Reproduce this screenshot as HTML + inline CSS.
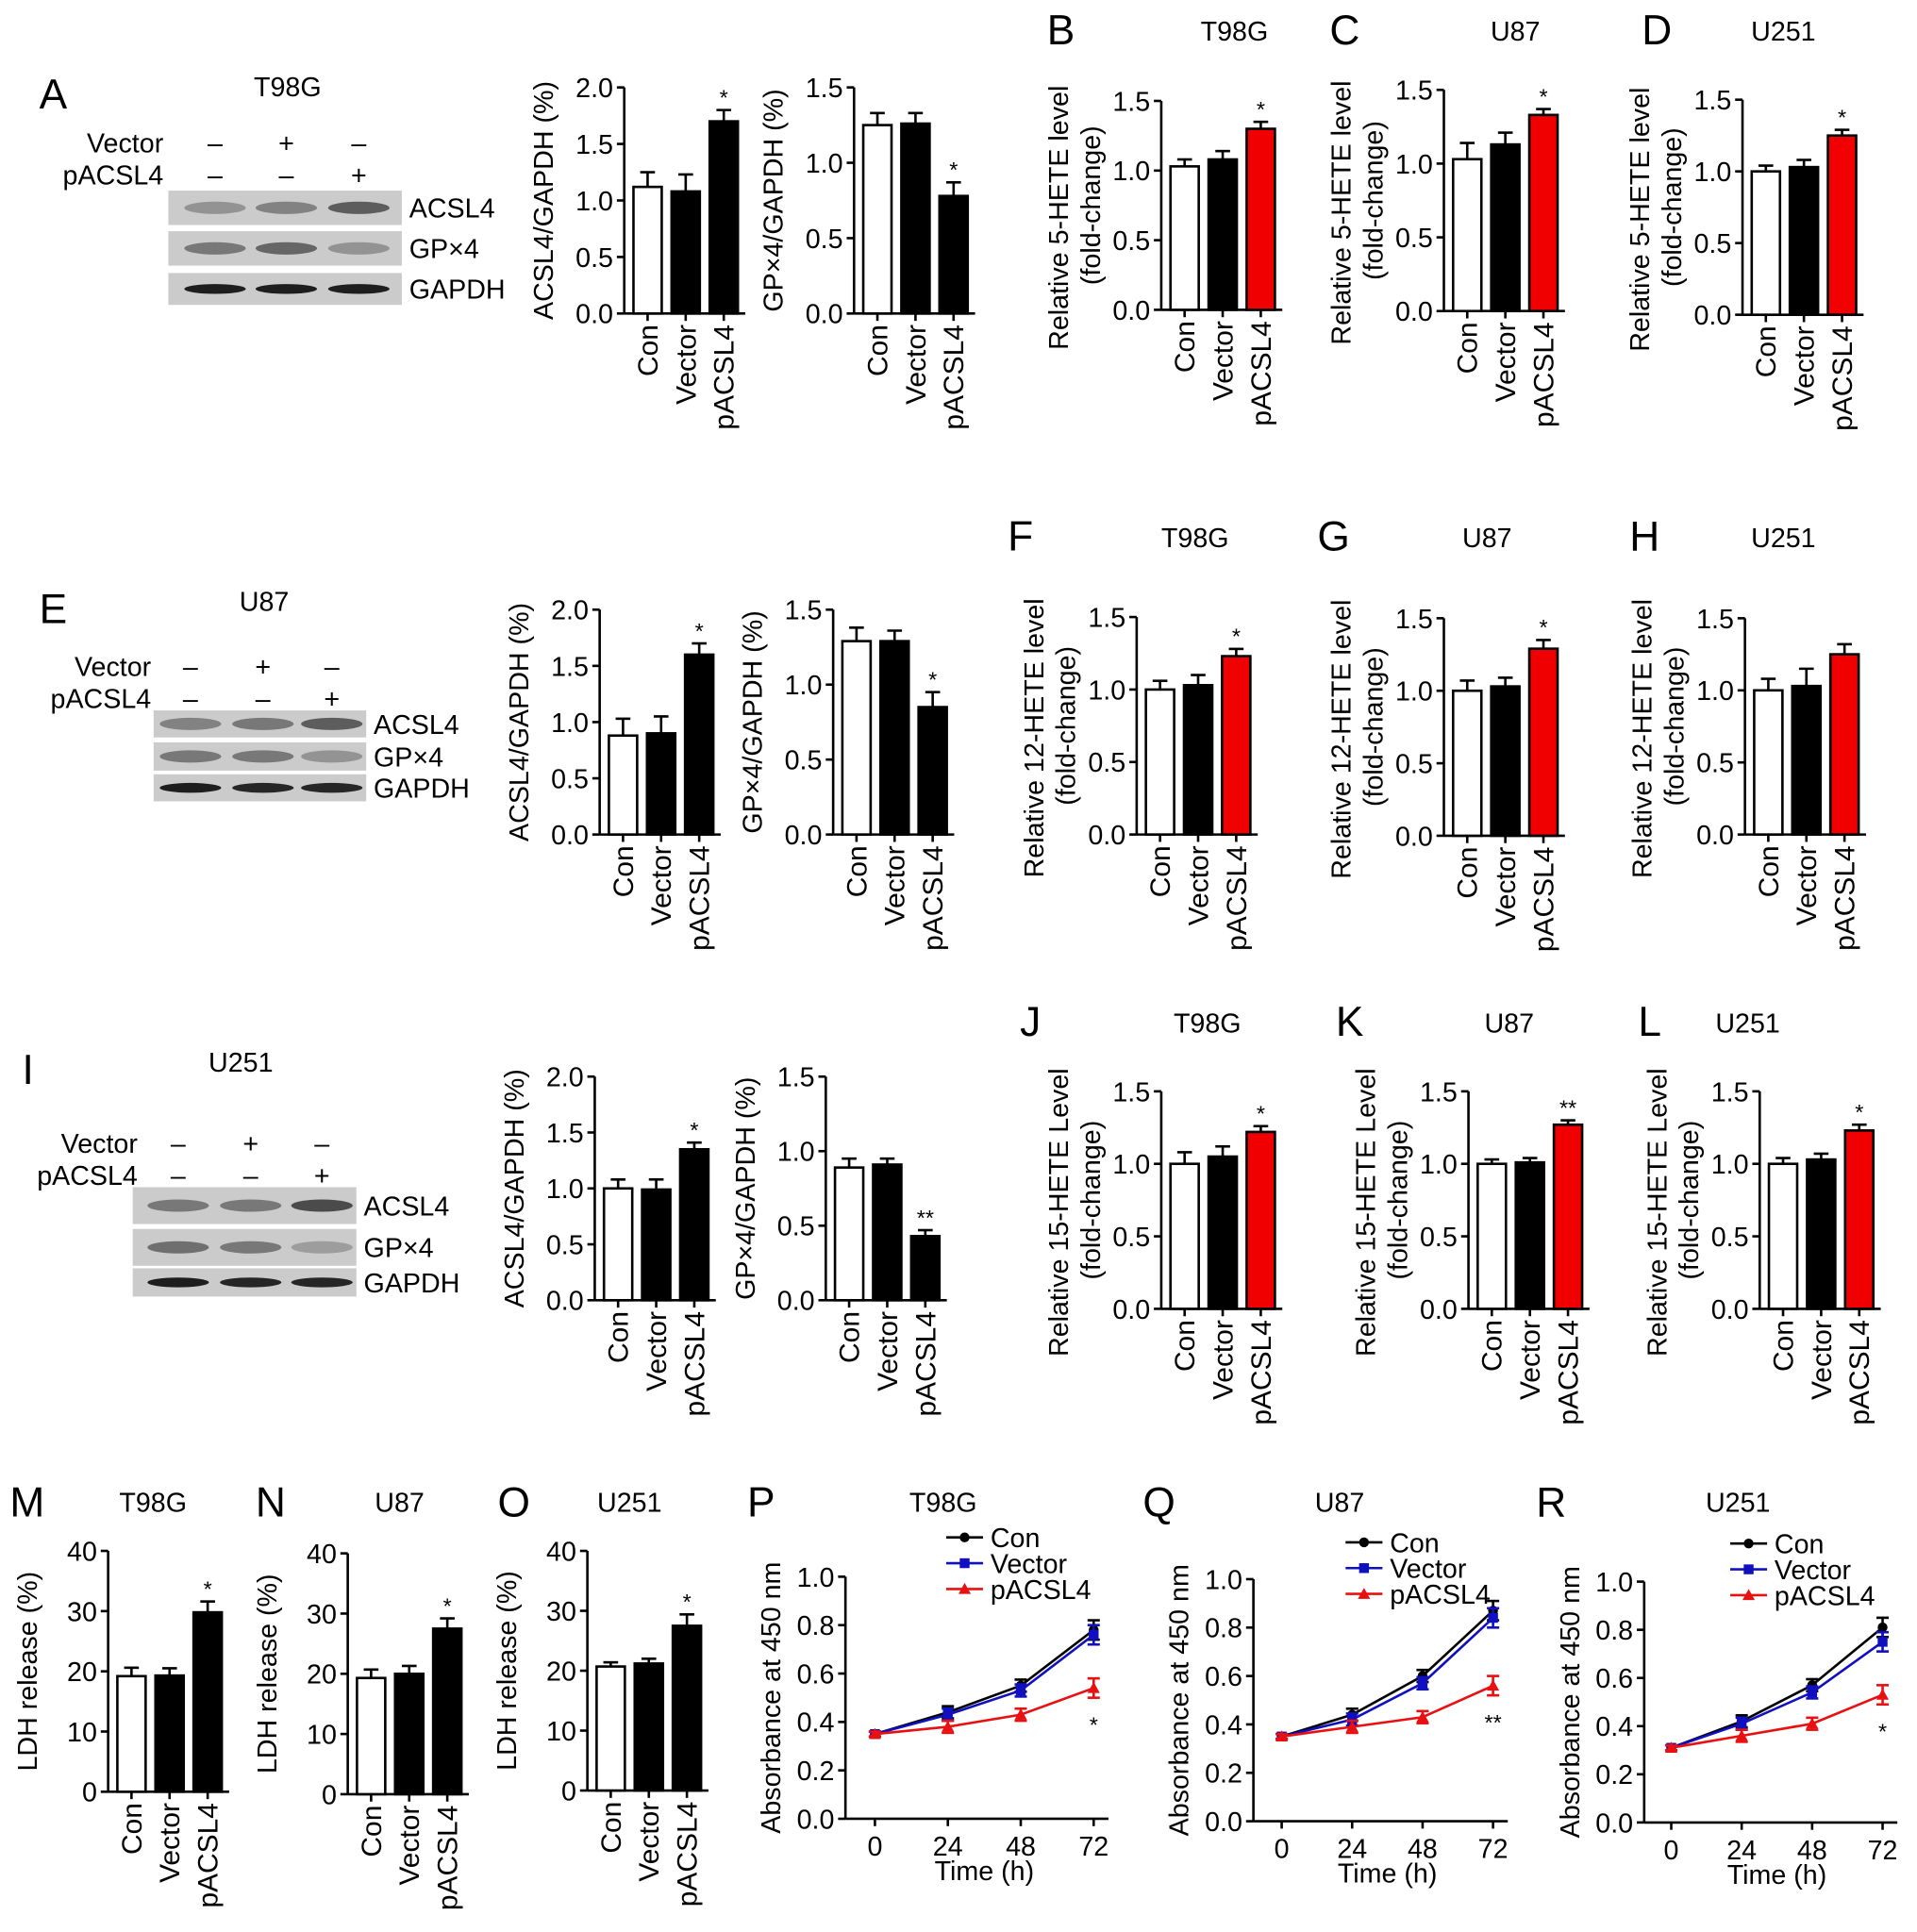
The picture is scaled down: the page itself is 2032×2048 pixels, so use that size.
<!DOCTYPE html>
<html><head><meta charset="utf-8"><style>
html,body{margin:0;padding:0;background:#fff;}
svg{display:block;font-family:"Liberation Sans",Arial,sans-serif;}
</style></head><body>
<svg id="fig" width="2032" height="2048" viewBox="0 0 1560 1572" xmlns="http://www.w3.org/2000/svg"></svg>
<script>
// ---- data ----
const groups = ["Con","Vector","pACSL4"];
const times = [0,24,48,72];
const aAcsl = [1.12,1.08,1.70], aAcslErr=[0.13,0.15,0.10];
const aGpx = [1.25,1.26,0.78], aGpxErr=[0.08,0.07,0.09];
const b5 = [1.03,1.08,1.30], b5Err=[0.05,0.06,0.05];
const c5 = [1.03,1.13,1.33], c5Err=[0.11,0.08,0.04];
const d5 = [1.00,1.03,1.25], d5Err=[0.04,0.05,0.04];
const eAcsl = [0.88,0.90,1.60], eAcslErr=[0.15,0.15,0.10];
const eGpx = [1.29,1.29,0.85], eGpxErr=[0.09,0.07,0.10];
const f12 = [1.00,1.03,1.23], f12Err=[0.06,0.07,0.05];
const g12 = [1.00,1.03,1.29], g12Err=[0.07,0.06,0.06];
const h12 = [1.00,1.03,1.25], h12Err=[0.08,0.12,0.07];
const iAcsl = [1.00,0.99,1.35], iAcslErr=[0.08,0.09,0.06];
const iGpx = [0.89,0.91,0.43], iGpxErr=[0.06,0.04,0.04];
const j15 = [1.00,1.05,1.22], j15Err=[0.08,0.07,0.04];
const k15 = [1.00,1.01,1.27], k15Err=[0.03,0.03,0.03];
const l15 = [1.00,1.03,1.23], l15Err=[0.04,0.04,0.04];
const mLdh = [19.2,19.3,29.8], mLdhErr=[1.4,1.2,1.8];
const nLdh = [19.3,20.0,27.5], nLdhErr=[1.4,1.3,1.7];
const oLdh = [20.7,21.2,27.5], oLdhErr=[0.7,0.8,1.9];
const pCon=[0.35,0.44,0.55,0.78], pVec=[0.35,0.43,0.53,0.76], pP=[0.35,0.38,0.43,0.54];
const qCon=[0.35,0.44,0.60,0.87], qVec=[0.35,0.42,0.57,0.84], qP=[0.35,0.39,0.43,0.56];
const rCon=[0.31,0.42,0.57,0.81], rVec=[0.31,0.41,0.54,0.75], rP=[0.31,0.36,0.41,0.53];
const ticks2=[0,0.5,1.0,1.5,2.0], ticks15=[0,0.5,1.0,1.5], ticks1=[0,0.2,0.4,0.6,0.8,1.0], ticks40=[0,10,20,30,40];

const svg=document.getElementById('fig');
const NS='http://www.w3.org/2000/svg';
const FS=22;
function el(tag,attrs,parent,text){const e=document.createElementNS(NS,tag);for(const k in attrs)e.setAttribute(k,attrs[k]);if(text!==undefined)e.textContent=text;(parent||svg).appendChild(e);return e;}
function txt(x,y,s,size,parent,anchor,extra){const t=el('text',Object.assign({x:x,y:y,'font-size':size,'text-anchor':anchor||'start',fill:'#000'},extra||{}),parent,s);return t;}

function barChart(name,ax,base,top,max,ticks,dec,vals,errs,colors,ylab,stars){
  const g=el('g',{});
  
  
  const ys=v=>base-(v/max)*(base-top);
  const bw=23, step=31, x0=ax+19;
  el('line',{x1:ax,y1:top,x2:ax,y2:base,stroke:'#000','stroke-width':2},g);
  el('line',{x1:ax,y1:base,x2:x0+step*(vals.length-1)+bw/2+6,y2:base,stroke:'#000','stroke-width':2},g);
  ticks.forEach(t=>{const y=ys(t);el('line',{x1:ax-6,y1:y,x2:ax,y2:y,stroke:'#000','stroke-width':2},g);
    const lb=txt(ax-9,y+8,t.toFixed(dec),FS,g,'end');});
  vals.forEach((v,i)=>{const cx=x0+step*i;
    el('line',{x1:cx,y1:ys(v),x2:cx,y2:ys(v+errs[i]),stroke:'#000','stroke-width':2},g);
    el('line',{x1:cx-6,y1:ys(v+errs[i]),x2:cx+6,y2:ys(v+errs[i]),stroke:'#000','stroke-width':2},g);
    const r=el('rect',{x:cx-bw/2,y:ys(v),width:bw,height:base-ys(v),fill:colors[i],stroke:'#000','stroke-width':2},g);
    
    
    el('line',{x1:cx,y1:base,x2:cx,y2:base+6,stroke:'#000','stroke-width':2},g);
    const xl=txt(0,0,groups[i],FS+1,g,'end',{transform:`translate(${cx+8},${base+9}) rotate(-90)`});
    
    if(stars&&stars[i]){const s=txt(cx,ys(v+errs[i])-4,stars[i],18,g,'middle');}
  });
  const mid=(top+base)/2;
  if(Array.isArray(ylab)){
    const a=txt(0,0,ylab[0],FS,g,'middle',{transform:`translate(${ax-76},${mid+10}) rotate(-90)`});
    const b=txt(0,0,ylab[1],FS,g,'middle',{transform:`translate(${ax-50},${mid}) rotate(-90)`});
  } else {
    const a=txt(0,0,ylab,FS,g,'middle',{transform:`translate(${ax-58},${mid}) rotate(-90)`});
  }
}
function lineChart(name,ax,base,top,x0,x72,con,vec,pa,star,legX,legY){
  const g=el('g',{});
  
  
  const ys=v=>base-v*(base-top);
  const xs=t=>x0+(t/72)*(x72-x0);
  el('line',{x1:ax,y1:top,x2:ax,y2:base,stroke:'#000','stroke-width':2},g);
  el('line',{x1:ax,y1:base,x2:x72+12,y2:base,stroke:'#000','stroke-width':2},g);
  ticks1.forEach(t=>{const y=ys(t);el('line',{x1:ax-6,y1:y,x2:ax,y2:y,stroke:'#000','stroke-width':2},g);
    const lb=txt(ax-9,y+8,t.toFixed(1),FS,g,'end');});
  times.forEach(t=>{const x=xs(t);el('line',{x1:x,y1:base,x2:x,y2:base+6,stroke:'#000','stroke-width':2},g);
    const lb=txt(x,base+30,String(t),FS,g,'middle');});
  const xt=txt((x0+x72)/2,base+50,'Time (h)',FS,g,'middle');
  const yt=txt(0,0,'Absorbance at 450 nm',FS,g,'middle',{transform:`translate(${ax-53},${(top+base)/2}) rotate(-90)`});
  const series=[[con,'#000','circle','con'],[vec,'#1010c0','square','vector'],[pa,'#e81010','tri','pacsl4']];
  series.forEach(([d,c,m,nm])=>{
    const pl=el('polyline',{points:d.map((v,i)=>xs(times[i])+','+ys(v)).join(' '),fill:'none',stroke:c,'stroke-width':2},g);
    
    d.forEach((v,i)=>{const x=xs(times[i]),y=ys(v),e=i==0?0.01:(i==3?0.04:0.025);
      el('line',{x1:x,y1:ys(v-e),x2:x,y2:ys(v+e),stroke:c,'stroke-width':2},g);
      el('line',{x1:x-5,y1:ys(v+e),x2:x+5,y2:ys(v+e),stroke:c,'stroke-width':2},g);
      el('line',{x1:x-5,y1:ys(v-e),x2:x+5,y2:ys(v-e),stroke:c,'stroke-width':2},g);
      marker(g,m,x,y,c);});
  });
  const st=txt(xs(72),ys(pa[3])+36,star,18,g,'middle');
  const names=['Con','Vector','pACSL4'];
  series.forEach(([d,c,m,nm],i)=>{const y=legY+i*21;
    el('line',{x1:legX,y1:y,x2:legX+30,y2:y,stroke:c,'stroke-width':2},g);marker(g,m,legX+15,y,c);
    const lt=txt(legX+36,y+8,names[i],FS,g);});
}
function marker(g,m,x,y,c){
  if(m=='circle')el('circle',{cx:x,cy:y,r:4,fill:c},g);
  else if(m=='square')el('rect',{x:x-4,y:y-4,width:8,height:8,fill:c},g);
  else el('polygon',{points:`${x},${y-5} ${x-5},${y+4} ${x+5},${y+4}`,fill:c},g);
}
function label(x,y,s,size,nm){const t=txt(x,y,s,size);return t;}
function blot(name,title,tx,ty,letter,lx,bx,bw,rows,lanes,vy,py,labX,intens){
  const g=el('g',{});
  
  
  label(lx,ty+10,letter,34,'panel-letter');
  txt(tx,ty,title,FS,g,'middle');
  txt(labX,vy,'Vector',FS,g,'end');txt(labX,py,'pACSL4',FS,g,'end');
  const v=['–','+','–'],p=['–','–','+'];
  lanes.forEach((lx2,i)=>{txt(lx2,vy,v[i],FS,g,'middle');txt(lx2,py,p[i],FS,g,'middle');});
  const names=['ACSL4','GP×4','GAPDH'];
  rows.forEach(([y,h],r)=>{
    el('rect',{x:bx,y:y,width:bw,height:h,fill:'#cbcbcb'},g);
    lanes.forEach((lx2,i)=>{const k=intens[r][i];
      el('ellipse',{cx:lx2,cy:y+h/2,rx:25,ry:r==2?4:5,fill:`rgba(20,20,20,${k})`},g);});
    const t=txt(bx+bw+6,y+h/2+8,names[r],FS,g);
  });
}
const W=['#fff','#000','#000'], R=['#fff','#000','#f00000'];
// Row 1
blot('blot-t98g','T98G',234,78,'A',32,137,190,[[155,28],[188,28],[222,26]],[175,233,292],124,150,133,[[0.3,0.4,0.6],[0.45,0.55,0.3],[0.95,0.95,0.95]]);
barChart('chart-a-acsl4',508,255,71,2,ticks2,1,aAcsl,aAcslErr,W,'ACSL4/GAPDH (%)',['','','*']);
barChart('chart-a-gpx4',695,255,71,1.5,ticks15,1,aGpx,aGpxErr,W,'GP×4/GAPDH (%)',['','','*']);
label(852,36,'B',34,'panel-letter');label(977,33,'T98G',FS,'panel-title');
barChart('chart-b',945,252,82,1.5,ticks15,1,b5,b5Err,R,['Relative 5-HETE level','(fold-change)'],['','','*']);
label(1082,36,'C',34,'panel-letter');label(1213,33,'U87',FS,'panel-title');
barChart('chart-c',1175,253,73,1.5,ticks15,1,c5,c5Err,R,['Relative 5-HETE level','(fold-change)'],['','','*']);
label(1336,36,'D',34,'panel-letter');label(1425,33,'U251',FS,'panel-title');
barChart('chart-d',1418,256,81,1.5,ticks15,1,d5,d5Err,R,['Relative 5-HETE level','(fold-change)'],['','','*']);
// Row 2
blot('blot-u87','U87',215,497,'E',32,125,173,[[578,22],[604,23],[630,22]],[155,214,270],550,576,123,[[0.4,0.45,0.6],[0.45,0.45,0.3],[0.95,0.9,0.9]]);
barChart('chart-e-acsl4',488,679,496,2,ticks2,1,eAcsl,eAcslErr,W,'ACSL4/GAPDH (%)',['','','*']);
barChart('chart-e-gpx4',678,679,496,1.5,ticks15,1,eGpx,eGpxErr,W,'GP×4/GAPDH (%)',['','','*']);
label(820,448,'F',34,'panel-letter');label(945,445,'T98G',FS,'panel-title');
barChart('chart-f',925,679,502,1.5,ticks15,1,f12,f12Err,R,['Relative 12-HETE level','(fold-change)'],['','','*']);
label(1072,448,'G',34,'panel-letter');label(1190,445,'U87',FS,'panel-title');
barChart('chart-g',1175,680,503,1.5,ticks15,1,g12,g12Err,R,['Relative 12-HETE level','(fold-change)'],['','','*']);
label(1326,448,'H',34,'panel-letter');label(1425,445,'U251',FS,'panel-title');
barChart('chart-h',1420,679,503,1.5,ticks15,1,h12,h12Err,R,['Relative 12-HETE level','(fold-change)'],null);
// Row 3
blot('blot-u251','U251',196,872,'I',18,108,182,[[966,30],[1000,30],[1032,23]],[145,204,262],938,964,112,[[0.45,0.45,0.7],[0.5,0.45,0.25],[0.95,0.9,0.9]]);
barChart('chart-i-acsl4',484,1058,876,2,ticks2,1,iAcsl,iAcslErr,W,'ACSL4/GAPDH (%)',['','','*']);
barChart('chart-i-gpx4',672,1058,876,1.5,ticks15,1,iGpx,iGpxErr,W,'GP×4/GAPDH (%)',['','','**']);
label(830,843,'J',34,'panel-letter');label(955,840,'T98G',FS,'panel-title');
barChart('chart-j',945,1065,888,1.5,ticks15,1,j15,j15Err,R,['Relative 15-HETE Level','(fold-change)'],['','','*']);
label(1087,843,'K',34,'panel-letter');label(1208,840,'U87',FS,'panel-title');
barChart('chart-k',1195,1065,888,1.5,ticks15,1,k15,k15Err,R,['Relative 15-HETE Level','(fold-change)'],['','','**']);
label(1333,843,'L',34,'panel-letter');label(1396,840,'U251',FS,'panel-title');
barChart('chart-l',1432,1065,888,1.5,ticks15,1,l15,l15Err,R,['Relative 15-HETE Level','(fold-change)'],['','','*']);
// Row 4
label(8,1234,'M',34,'panel-letter');label(97,1230,'T98G',FS,'panel-title');
barChart('chart-m',88,1458,1262,40,ticks40,0,mLdh,mLdhErr,W,'LDH release (%)',['','','*']);
label(208,1234,'N',34,'panel-letter');label(305,1230,'U87',FS,'panel-title');
barChart('chart-n',283,1460,1264,40,ticks40,0,nLdh,nLdhErr,W,'LDH release (%)',['','','*']);
label(405,1234,'O',34,'panel-letter');label(486,1230,'U251',FS,'panel-title');
barChart('chart-o',478,1457,1262,40,ticks40,0,oLdh,oLdhErr,W,'LDH release (%)',['','','*']);
label(608,1234,'P',34,'panel-letter');label(740,1230,'T98G',FS,'panel-title');
lineChart('chart-p',688,1480,1283,712,890,pCon,pVec,pP,'*',770,1251);
label(930,1234,'Q',34,'panel-letter');label(1070,1230,'U87',FS,'panel-title');
lineChart('chart-q',1020,1482,1285,1043,1215,qCon,qVec,qP,'**',1095,1255);
label(1250,1234,'R',34,'panel-letter');label(1388,1230,'U251',FS,'panel-title');
lineChart('chart-r',1338,1483,1287,1360,1532,rCon,rVec,rP,'*',1408,1256);
</script>
</body></html>
